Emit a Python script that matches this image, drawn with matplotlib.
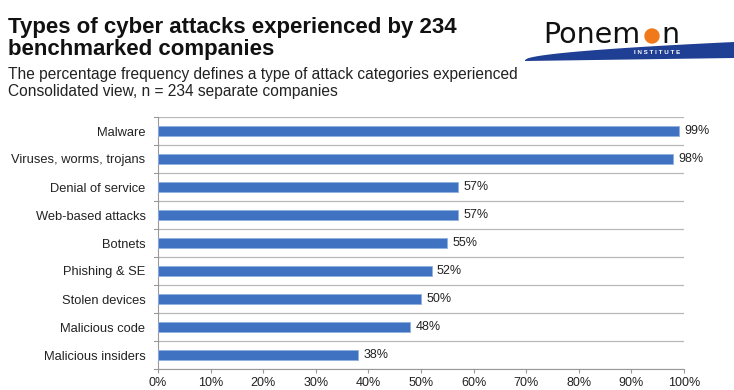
import matplotlib
matplotlib.use("Agg")
import matplotlib.pyplot as plt
from matplotlib.patches import Circle, Polygon
from matplotlib.ticker import PercentFormatter
import numpy as np

categories = ["Malware", "Viruses, worms, trojans", "Denial of service",
              "Web-based attacks", "Botnets", "Phishing & SE", "Stolen devices",
              "Malicious code", "Malicious insiders"]
values = [99, 98, 57, 57, 55, 52, 50, 48, 38]
x_ticks = [0, 10, 20, 30, 40, 50, 60, 70, 80, 90, 100]

plt.rcParams['font.family'] = ['Liberation Sans', 'DejaVu Sans']

W, H = 734, 390
fig = plt.figure(figsize=(W/100, H/100), dpi=100)
fig.patch.set_facecolor('white')

# axes: x 158..684, y 117..369
ax = fig.add_axes([158/W, 1-369/H, (684-158)/W, (369-117)/H])
n = len(categories)
ypos = np.arange(n)
ax.barh(ypos, values, height=0.38, color='#3f72c0', edgecolor='#8fb0e0', linewidth=0.6, zorder=3)
ax.set_ylim(n-0.5, -0.5)
ax.set_xlim(0, 100)
ax.set_yticks(ypos)
ax.set_yticklabels(categories, fontsize=9.3, color='#222222')
ax.set_xticks(x_ticks)
ax.xaxis.set_major_formatter(PercentFormatter(decimals=0))
ax.tick_params(axis='x', labelsize=9, colors='#222222', length=3, color='#999999', pad=3)
ax.tick_params(axis='y', length=0, pad=9)
# gridlines at category boundaries
for b in np.arange(-0.5, n, 1.0):
    ax.axhline(b, color='#b8b8b8', linewidth=0.9, zorder=1)
    ax.plot([-0.8, 0], [b, b], color='#999999', lw=0.8, clip_on=False)
for s in ['top', 'right']:
    ax.spines[s].set_visible(False)
ax.spines['left'].set_color('#999999')
ax.spines['bottom'].set_color('#999999')
ax.spines['left'].set_linewidth(0.8)
ax.spines['bottom'].set_linewidth(0.8)
for yi, v in zip(ypos, values):
    ax.text(v + 1.0, yi, f"{v}%", va='center', ha='left', fontsize=9, color='#222222')

# titles
fig.text(8/W, 1-33/H, "Types of cyber attacks experienced by 234", fontsize=16,
         fontweight='bold', color='#111111', ha='left', va='baseline')
fig.text(8/W, 1-55/H, "benchmarked companies", fontsize=16,
         fontweight='bold', color='#111111', ha='left', va='baseline')
fig.text(8/W, 1-79/H, "The percentage frequency defines a type of attack categories experienced",
         fontsize=11.2, color='#222222', ha='left', va='baseline')
fig.text(8/W, 1-96/H, "Consolidated view, n = 234 separate companies",
         fontsize=11.2, color='#222222', ha='left', va='baseline')

# logo
lax = fig.add_axes([0, 0, 1, 1], facecolor='none')
lax.set_xlim(0, W); lax.set_ylim(H, 0); lax.axis('off')
lax.text(543, 43, "Ponem", fontsize=20.5, family='DejaVu Sans', color='#111111', ha='left', va='baseline')
lax.add_patch(Circle((652, 36), 7, color='#f07a1a'))
lax.text(661, 43, "n", fontsize=20.5, family='DejaVu Sans', color='#111111', ha='left', va='baseline')
xs = np.linspace(525, 734, 80)
f = (xs - 525) / 209
upper = [(x, 60 - 18 * fi ** 0.55) for x, fi in zip(xs, f)]
lower = [(x, 61 - 3 * fi) for x, fi in zip(xs[::-1], f[::-1])]
lax.add_patch(Polygon(upper + lower, closed=True, color='#1f3f94', lw=0))
lax.text(657, 53, "I N S T I T U T E", fontsize=4.5, color='white', ha='center', va='center', fontweight='bold')

fig.savefig("out.png", dpi=100, facecolor='white')
